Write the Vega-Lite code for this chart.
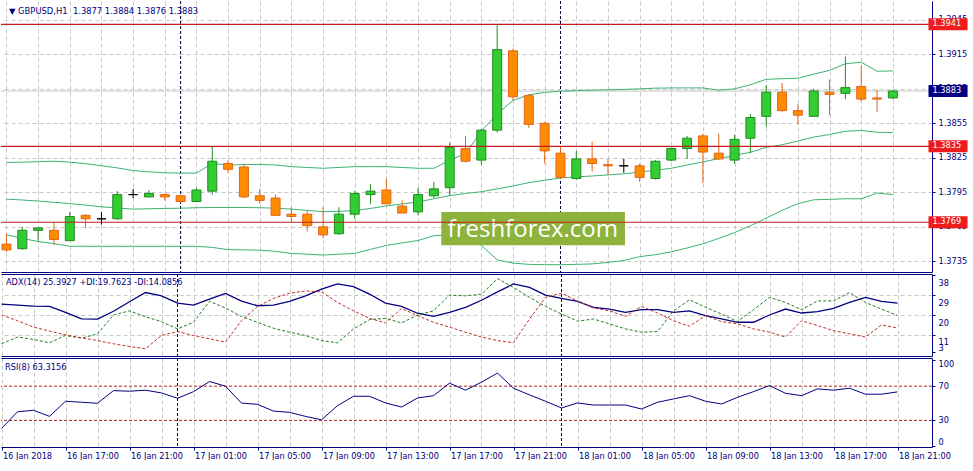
{
  "$schema": "https://vega.github.io/schema/vega-lite/v6.json",
  "padding": 0,
  "background": "white",
  "bounds": "flush",
  "spacing": 2,
  "config": {"view": {"stroke": null}, "font": "DejaVu Sans"},
  "datasets": {
    "bars": [
      {"t":"2018-01-16T13:00:00Z","o":1.3750,"h":1.3759,"l":1.3743,"c":1.3745,"bu":1.38209,"bm":1.37891,"bl":1.37581,"adx":24.95,"pdi":6.95,"mdi":20.0,"rsi":20.6},
      {"t":"2018-01-16T14:00:00Z","o":1.3746,"h":1.3765,"l":1.3745,"c":1.3762,"bu":1.38212,"bm":1.37883,"bl":1.37550,"adx":24.5,"pdi":10.0,"mdi":17.4,"rsi":40.1},
      {"t":"2018-01-16T15:00:00Z","o":1.3762,"h":1.3765,"l":1.3753,"c":1.3764,"bu":1.38216,"bm":1.37874,"bl":1.37522,"adx":24.05,"pdi":8.9,"mdi":14.5,"rsi":41.8},
      {"t":"2018-01-16T16:00:00Z","o":1.3762,"h":1.3769,"l":1.3749,"c":1.3754,"bu":1.38220,"bm":1.37863,"bl":1.37504,"adx":23.9,"pdi":7.4,"mdi":12.7,"rsi":34.7},
      {"t":"2018-01-16T17:00:00Z","o":1.3753,"h":1.3778,"l":1.3753,"c":1.3774,"bu":1.38212,"bm":1.37852,"bl":1.37481,"adx":21.2,"pdi":10.7,"mdi":11.0,"rsi":52.4},
      {"t":"2018-01-16T18:00:00Z","o":1.3775,"h":1.3776,"l":1.3764,"c":1.3772,"bu":1.38199,"bm":1.37839,"bl":1.37481,"adx":18.2,"pdi":9.5,"mdi":9.65,"rsi":51.2},
      {"t":"2018-01-16T19:00:00Z","o":1.3772,"h":1.3778,"l":1.3767,"c":1.3772,"bu":1.38181,"bm":1.37824,"bl":1.37481,"adx":18.1,"pdi":11.45,"mdi":8.4,"rsi":50.0},
      {"t":"2018-01-16T20:00:00Z","o":1.3772,"h":1.3796,"l":1.3771,"c":1.3793,"bu":1.38162,"bm":1.37814,"bl":1.37481,"adx":21.7,"pdi":20.0,"mdi":6.95,"rsi":64.8},
      {"t":"2018-01-16T21:00:00Z","o":1.3793,"h":1.3798,"l":1.3790,"c":1.3793,"bu":1.38139,"bm":1.37804,"bl":1.37481,"adx":26.0,"pdi":21.9,"mdi":5.7,"rsi":64.1},
      {"t":"2018-01-16T22:00:00Z","o":1.3791,"h":1.3797,"l":1.3791,"c":1.3794,"bu":1.38128,"bm":1.37807,"bl":1.37481,"adx":30.2,"pdi":19.2,"mdi":4.7,"rsi":65.3},
      {"t":"2018-01-16T23:00:00Z","o":1.3793,"h":1.3794,"l":1.3788,"c":1.3791,"bu":1.38120,"bm":1.37810,"bl":1.37481,"adx":28.7,"pdi":17.0,"mdi":10.7,"rsi":62.1},
      {"t":"2018-01-17T00:00:00Z","o":1.3792,"h":1.3793,"l":1.3786,"c":1.3787,"bu":1.38117,"bm":1.37812,"bl":1.37481,"adx":25.4,"pdi":13.7,"mdi":12.5,"rsi":55.9},
      {"t":"2018-01-17T01:00:00Z","o":1.3787,"h":1.3799,"l":1.3787,"c":1.3797,"bu":1.38117,"bm":1.37816,"bl":1.37481,"adx":24.5,"pdi":16.7,"mdi":10.7,"rsi":63.6},
      {"t":"2018-01-17T02:00:00Z","o":1.3796,"h":1.3835,"l":1.3793,"c":1.3822,"bu":1.38201,"bm":1.37818,"bl":1.37471,"adx":27.2,"pdi":26.2,"mdi":9.2,"rsi":75.4},
      {"t":"2018-01-17T03:00:00Z","o":1.3820,"h":1.3823,"l":1.3812,"c":1.3815,"bu":1.38187,"bm":1.37818,"bl":1.37452,"adx":29.8,"pdi":23.15,"mdi":7.7,"rsi":70.0},
      {"t":"2018-01-17T04:00:00Z","o":1.3817,"h":1.3820,"l":1.3790,"c":1.3791,"bu":1.38191,"bm":1.37818,"bl":1.37450,"adx":26.3,"pdi":19.3,"mdi":17.4,"rsi":50.2},
      {"t":"2018-01-17T05:00:00Z","o":1.3792,"h":1.3798,"l":1.3785,"c":1.3788,"bu":1.38193,"bm":1.37816,"bl":1.37447,"adx":24.2,"pdi":16.7,"mdi":23.9,"rsi":48.8},
      {"t":"2018-01-17T06:00:00Z","o":1.3790,"h":1.3793,"l":1.3775,"c":1.3775,"bu":1.38187,"bm":1.37812,"bl":1.37437,"adx":24.5,"pdi":14.0,"mdi":27.5,"rsi":40.9},
      {"t":"2018-01-17T07:00:00Z","o":1.3776,"h":1.3782,"l":1.3769,"c":1.3774,"bu":1.38173,"bm":1.37804,"bl":1.37419,"adx":26.2,"pdi":12.2,"mdi":29.9,"rsi":39.4},
      {"t":"2018-01-17T08:00:00Z","o":1.3776,"h":1.3779,"l":1.3761,"c":1.3766,"bu":1.38166,"bm":1.37793,"bl":1.37412,"adx":28.7,"pdi":10.7,"mdi":30.9,"rsi":34.7},
      {"t":"2018-01-17T09:00:00Z","o":1.3765,"h":1.3782,"l":1.3755,"c":1.3758,"bu":1.38159,"bm":1.37782,"bl":1.37405,"adx":31.7,"pdi":8.4,"mdi":30.5,"rsi":30.7},
      {"t":"2018-01-17T10:00:00Z","o":1.3759,"h":1.3782,"l":1.3758,"c":1.3776,"bu":1.38166,"bm":1.37785,"bl":1.37412,"adx":34.1,"pdi":7.4,"mdi":25.7,"rsi":47.2},
      {"t":"2018-01-17T11:00:00Z","o":1.3776,"h":1.3796,"l":1.3772,"c":1.3794,"bu":1.38173,"bm":1.37791,"bl":1.37419,"adx":32.9,"pdi":13.7,"mdi":21.9,"rsi":58.2},
      {"t":"2018-01-17T12:00:00Z","o":1.3793,"h":1.3802,"l":1.3785,"c":1.3796,"bu":1.38173,"bm":1.37810,"bl":1.37454,"adx":29.5,"pdi":17.9,"mdi":18.5,"rsi":58.2},
      {"t":"2018-01-17T13:00:00Z","o":1.3797,"h":1.3807,"l":1.3785,"c":1.3785,"bu":1.38173,"bm":1.37832,"bl":1.37489,"adx":25.4,"pdi":18.5,"mdi":16.4,"rsi":50.4},
      {"t":"2018-01-17T14:00:00Z","o":1.3783,"h":1.3788,"l":1.3777,"c":1.3777,"bu":1.38166,"bm":1.37849,"bl":1.37510,"adx":23.9,"pdi":16.4,"mdi":23.0,"rsi":45.6},
      {"t":"2018-01-17T15:00:00Z","o":1.3778,"h":1.3799,"l":1.3775,"c":1.3793,"bu":1.38159,"bm":1.37866,"bl":1.37531,"adx":20.8,"pdi":20.0,"mdi":19.7,"rsi":56.2},
      {"t":"2018-01-17T16:00:00Z","o":1.3792,"h":1.3804,"l":1.3790,"c":1.3798,"bu":1.38159,"bm":1.37894,"bl":1.37573,"adx":19.4,"pdi":21.9,"mdi":16.7,"rsi":58.9},
      {"t":"2018-01-17T17:00:00Z","o":1.3799,"h":1.3838,"l":1.3792,"c":1.3834,"bu":1.38229,"bm":1.37921,"bl":1.37581,"adx":21.2,"pdi":29.0,"mdi":14.5,"rsi":73.5},
      {"t":"2018-01-17T18:00:00Z","o":1.3833,"h":1.3844,"l":1.3821,"c":1.3822,"bu":1.38285,"bm":1.37940,"bl":1.37558,"adx":23.5,"pdi":28.7,"mdi":12.2,"rsi":65.3},
      {"t":"2018-01-17T19:00:00Z","o":1.3823,"h":1.3850,"l":1.3819,"c":1.3849,"bu":1.38480,"bm":1.37955,"bl":1.37489,"adx":26.7,"pdi":29.45,"mdi":10.0,"rsi":74.7},
      {"t":"2018-01-17T20:00:00Z","o":1.3849,"h":1.3940,"l":1.3847,"c":1.3919,"bu":1.38631,"bm":1.37980,"bl":1.37363,"adx":30.5,"pdi":36.5,"mdi":8.4,"rsi":85.3},
      {"t":"2018-01-17T21:00:00Z","o":1.3918,"h":1.3920,"l":1.3875,"c":1.3878,"bu":1.38748,"bm":1.38005,"bl":1.37335,"adx":34.1,"pdi":32.5,"mdi":7.4,"rsi":67.6},
      {"t":"2018-01-17T22:00:00Z","o":1.3879,"h":1.3880,"l":1.3851,"c":1.3854,"bu":1.38798,"bm":1.38034,"bl":1.37324,"adx":32.5,"pdi":28.0,"mdi":18.2,"rsi":59.8},
      {"t":"2018-01-17T23:00:00Z","o":1.3855,"h":1.3856,"l":1.3820,"c":1.3831,"bu":1.38818,"bm":1.38055,"bl":1.37321,"adx":29.0,"pdi":23.9,"mdi":28.0,"rsi":52.4},
      {"t":"2018-01-18T00:00:00Z","o":1.3829,"h":1.3835,"l":1.3807,"c":1.3808,"bu":1.38829,"bm":1.38075,"bl":1.37321,"adx":27.5,"pdi":20.45,"mdi":29.9,"rsi":44.5},
      {"t":"2018-01-18T01:00:00Z","o":1.3807,"h":1.3831,"l":1.3806,"c":1.3824,"bu":1.38834,"bm":1.38084,"bl":1.37324,"adx":26.2,"pdi":17.2,"mdi":26.4,"rsi":50.4},
      {"t":"2018-01-18T02:00:00Z","o":1.3824,"h":1.3839,"l":1.3813,"c":1.3820,"bu":1.38838,"bm":1.38092,"bl":1.37328,"adx":23.5,"pdi":18.2,"mdi":23.15,"rsi":48.0},
      {"t":"2018-01-18T03:00:00Z","o":1.3819,"h":1.3824,"l":1.3810,"c":1.3818,"bu":1.38840,"bm":1.38101,"bl":1.37341,"adx":22.7,"pdi":15.95,"mdi":21.9,"rsi":48.0},
      {"t":"2018-01-18T04:00:00Z","o":1.3818,"h":1.3824,"l":1.3812,"c":1.3818,"bu":1.38844,"bm":1.38111,"bl":1.37357,"adx":21.2,"pdi":13.7,"mdi":19.4,"rsi":48.0},
      {"t":"2018-01-18T05:00:00Z","o":1.3818,"h":1.3820,"l":1.3804,"c":1.3808,"bu":1.38849,"bm":1.38126,"bl":1.37391,"adx":22.4,"pdi":12.2,"mdi":23.9,"rsi":43.3},
      {"t":"2018-01-18T06:00:00Z","o":1.3807,"h":1.3823,"l":1.3806,"c":1.3822,"bu":1.38855,"bm":1.38142,"bl":1.37408,"adx":22.4,"pdi":12.5,"mdi":20.9,"rsi":51.2},
      {"t":"2018-01-18T07:00:00Z","o":1.3823,"h":1.3834,"l":1.3822,"c":1.3833,"bu":1.38857,"bm":1.38159,"bl":1.37433,"adx":21.2,"pdi":21.9,"mdi":17.4,"rsi":55.1},
      {"t":"2018-01-18T08:00:00Z","o":1.3833,"h":1.3844,"l":1.3824,"c":1.3842,"bu":1.38857,"bm":1.38187,"bl":1.37466,"adx":21.9,"pdi":26.9,"mdi":14.9,"rsi":58.9},
      {"t":"2018-01-18T09:00:00Z","o":1.3844,"h":1.3846,"l":1.3803,"c":1.3830,"bu":1.38857,"bm":1.38214,"bl":1.37502,"adx":19.7,"pdi":23.5,"mdi":19.7,"rsi":52.4},
      {"t":"2018-01-18T10:00:00Z","o":1.3829,"h":1.3846,"l":1.3823,"c":1.3824,"bu":1.38838,"bm":1.38243,"bl":1.37550,"adx":18.2,"pdi":20.45,"mdi":17.0,"rsi":49.2},
      {"t":"2018-01-18T11:00:00Z","o":1.3823,"h":1.3845,"l":1.3820,"c":1.3841,"bu":1.38849,"bm":1.38271,"bl":1.37600,"adx":16.7,"pdi":17.0,"mdi":16.0,"rsi":57.0},
      {"t":"2018-01-18T12:00:00Z","o":1.3842,"h":1.3863,"l":1.3829,"c":1.3860,"bu":1.38885,"bm":1.38298,"bl":1.37659,"adx":16.7,"pdi":22.4,"mdi":13.7,"rsi":63.6},
      {"t":"2018-01-18T13:00:00Z","o":1.3861,"h":1.3888,"l":1.3852,"c":1.3882,"bu":1.38932,"bm":1.38340,"bl":1.37726,"adx":20.0,"pdi":28.0,"mdi":12.2,"rsi":70.7},
      {"t":"2018-01-18T14:00:00Z","o":1.3882,"h":1.3890,"l":1.3865,"c":1.3866,"bu":1.38937,"bm":1.38363,"bl":1.37793,"adx":22.7,"pdi":25.7,"mdi":10.0,"rsi":61.7},
      {"t":"2018-01-18T15:00:00Z","o":1.3866,"h":1.3872,"l":1.3854,"c":1.3862,"bu":1.38941,"bm":1.38396,"bl":1.37852,"adx":20.9,"pdi":22.4,"mdi":17.4,"rsi":58.9},
      {"t":"2018-01-18T16:00:00Z","o":1.3861,"h":1.3885,"l":1.3861,"c":1.3883,"bu":1.38977,"bm":1.38430,"bl":1.37885,"adx":21.5,"pdi":26.4,"mdi":15.2,"rsi":66.8},
      {"t":"2018-01-18T17:00:00Z","o":1.3882,"h":1.3893,"l":1.3862,"c":1.3880,"bu":1.39010,"bm":1.38452,"bl":1.37889,"adx":23.0,"pdi":26.4,"mdi":12.9,"rsi":65.3},
      {"t":"2018-01-18T18:00:00Z","o":1.3881,"h":1.3913,"l":1.3876,"c":1.3886,"bu":1.39067,"bm":1.38480,"bl":1.37894,"adx":25.7,"pdi":30.2,"mdi":11.45,"rsi":67.6},
      {"t":"2018-01-18T19:00:00Z","o":1.3887,"h":1.3905,"l":1.3874,"c":1.3876,"bu":1.39081,"bm":1.38488,"bl":1.37894,"adx":28.0,"pdi":25.7,"mdi":10.0,"rsi":60.6},
      {"t":"2018-01-18T20:00:00Z","o":1.3877,"h":1.3884,"l":1.3865,"c":1.3876,"bu":1.39002,"bm":1.38472,"bl":1.37944,"adx":26.2,"pdi":22.7,"mdi":15.5,"rsi":60.6},
      {"t":"2018-01-18T21:00:00Z","o":1.3877,"h":1.3884,"l":1.3876,"c":1.3883,"bu":1.39005,"bm":1.38469,"bl":1.37930,"adx":25.39,"pdi":19.76,"mdi":14.09,"rsi":63.32}
    ],
    "levels": [
      {"p":1.3941,"kind":"level"},
      {"p":1.3835,"kind":"level"},
      {"p":1.3769,"kind":"level"},
      {"p":1.3883,"kind":"bid"}
    ],
    "seps": [
      {"t":"2018-01-17T00:00:00Z"},
      {"t":"2018-01-18T00:00:00Z"}
    ],
    "rsiLevels": [
      {"v":70},
      {"v":30}
    ]
  },
  "vconcat": [
    {
      "width": 931,
      "height": 271,
      "resolve": {"axis": {"x": "independent", "y": "independent"}},
      "layer": [
        {
          "data": {"name": "levels"},
          "transform": [{"filter": "datum.kind == 'bid'"}],
          "mark": {"type": "rule", "color": "#c4c4c4", "strokeWidth": 1},
          "encoding": {"y": {"field": "p", "type": "quantitative", "scale": {"domain": [1.37301, 1.39569], "zero": false, "nice": false}, "axis": null}}
        },
        {
          "data": {"name": "seps"},
          "mark": {"type": "rule", "color": "#000033", "strokeDash": [3, 2], "strokeWidth": 1},
          "encoding": {"x": {"field": "t", "type": "temporal", "scale": {"type": "utc", "domain": [1516107487500, 1516316962500]}, "axis": null}}
        },
        {
          "data": {"name": "bars"},
          "mark": {"type": "line", "color": "#3CB371", "strokeWidth": 1, "clip": true},
          "encoding": {
            "x": {"field": "t", "type": "temporal", "scale": {"type": "utc", "domain": [1516107487500, 1516316962500]}, "axis": null},
            "y": {"field": "bu", "type": "quantitative", "scale": {"domain": [1.37301, 1.39569], "zero": false, "nice": false}, "axis": null}
          }
        },
        {
          "data": {"name": "bars"},
          "mark": {"type": "line", "color": "#3CB371", "strokeWidth": 1, "clip": true},
          "encoding": {
            "x": {"field": "t", "type": "temporal", "scale": {"type": "utc", "domain": [1516107487500, 1516316962500]}, "axis": null},
            "y": {"field": "bm", "type": "quantitative", "scale": {"domain": [1.37301, 1.39569], "zero": false, "nice": false}, "axis": null}
          }
        },
        {
          "data": {"name": "bars"},
          "mark": {"type": "line", "color": "#3CB371", "strokeWidth": 1, "clip": true},
          "encoding": {
            "x": {"field": "t", "type": "temporal", "scale": {"type": "utc", "domain": [1516107487500, 1516316962500]}, "axis": null},
            "y": {"field": "bl", "type": "quantitative", "scale": {"domain": [1.37301, 1.39569], "zero": false, "nice": false}, "axis": null}
          }
        },
        {
          "data": {"name": "bars"},
          "mark": {"type": "rule", "strokeWidth": 1, "clip": true},
          "encoding": {
            "x": {"field": "t", "type": "temporal", "scale": {"type": "utc", "domain": [1516107487500, 1516316962500]},
              "axis": {"orient": "bottom", "values": [1516107600000,1516114800000,1516122000000,1516129200000,1516136400000,1516143600000,1516150800000,1516158000000,1516165200000,1516172400000,1516179600000,1516186800000,1516194000000,1516201200000,1516208400000,1516215600000,1516222800000,1516230000000,1516237200000,1516244400000,1516251600000,1516258800000,1516266000000,1516273200000,1516280400000,1516287600000,1516294800000,1516302000000,1516309200000],
                "grid": true, "gridColor": "#c8c8c8", "gridDash": [4, 3], "labels": false, "ticks": false, "domain": true, "domainColor": "#000080", "domainWidth": 1, "title": null}},
            "y": {"field": "l", "type": "quantitative", "scale": {"domain": [1.37301, 1.39569], "zero": false, "nice": false},
              "axis": {"orient": "right", "values": [1.3735, 1.3765, 1.3795, 1.3825, 1.3855, 1.3885, 1.3915, 1.3945], "format": ".4f", "title": null,
                "grid": true, "gridColor": "#c8c8c8", "gridDash": [4, 3], "domain": true, "domainColor": "#000080", "domainWidth": 1, "tickColor": "#000080", "tickSize": 3, "labelPadding": 3,
                "labelColor": "#000080", "labelFont": "DejaVu Sans", "labelFontSize": 8.2, "labelOverlap": false, "labelFlush": false, "labelBound": false}},
            "y2": {"field": "h"},
            "color": {"condition": [{"test": "datum.c > datum.o", "value": "#1F8B1F"}, {"test": "datum.c == datum.o", "value": "#000000"}], "value": "#E2661A"}
          }
        },
        {
          "data": {"name": "bars"},
          "mark": {"type": "bar", "width": 9, "strokeWidth": 1, "clip": true},
          "encoding": {
            "x": {"field": "t", "type": "temporal", "scale": {"type": "utc", "domain": [1516107487500, 1516316962500]}, "axis": null},
            "y": {"field": "o", "type": "quantitative", "scale": {"domain": [1.37301, 1.39569], "zero": false, "nice": false}, "axis": null},
            "y2": {"field": "c"},
            "fill": {"condition": [{"test": "datum.c > datum.o", "value": "#32CD32"}, {"test": "datum.c == datum.o", "value": "#000000"}], "value": "#FF8C00"},
            "stroke": {"condition": [{"test": "datum.c > datum.o", "value": "#1F8B1F"}, {"test": "datum.c == datum.o", "value": "#000000"}], "value": "#E2661A"}
          }
        },
        {
          "data": {"values": [{}]},
          "mark": {"type": "rect", "color": "#8DB33C", "clip": true},
          "encoding": {
            "x": {"datum": 1516206487500, "type": "temporal", "scale": {"type": "utc", "domain": [1516107487500, 1516316962500]}, "axis": null},
            "x2": {"datum": 1516248270000},
            "y": {"datum": 1.37778, "type": "quantitative", "scale": {"domain": [1.37301, 1.39569], "zero": false, "nice": false}, "axis": null},
            "y2": {"datum": 1.37491}
          }
        },
        {
          "data": {"values": [{}]},
          "mark": {"type": "text", "text": "freshforex.com", "font": "Open Sans", "fontSize": 24, "color": "white", "align": "center", "baseline": "alphabetic", "clip": true},
          "encoding": {
            "x": {"datum": 1516227300000, "type": "temporal", "scale": {"type": "utc", "domain": [1516107487500, 1516316962500]}, "axis": null},
            "y": {"datum": 1.37560, "type": "quantitative", "scale": {"domain": [1.37301, 1.39569], "zero": false, "nice": false}, "axis": null}
          }
        },
        {
          "data": {"name": "levels"},
          "transform": [{"filter": "datum.kind == 'level'"}],
          "mark": {"type": "rule", "color": "#C41E1E", "strokeWidth": 1.2},
          "encoding": {"y": {"field": "p", "type": "quantitative", "scale": {"domain": [1.37301, 1.39569], "zero": false, "nice": false}, "axis": null}}
        },
        {
          "data": {"name": "levels"},
          "mark": {"type": "bar", "orient": "horizontal", "height": 12, "clip": false},
          "encoding": {
            "x": {"datum": 1516317300000, "type": "temporal", "scale": {"type": "utc", "domain": [1516107487500, 1516316962500]}, "axis": null},
            "x2": {"datum": 1516326187500},
            "y": {"field": "p", "type": "quantitative", "scale": {"domain": [1.37301, 1.39569], "zero": false, "nice": false}, "axis": null},
            "fill": {"condition": {"test": "datum.kind == 'bid'", "value": "#000080"}, "value": "#EE1C1C"}
          }
        },
        {
          "data": {"name": "levels"},
          "mark": {"type": "text", "align": "left", "baseline": "middle", "dx": 4, "color": "white", "font": "DejaVu Sans", "fontSize": 8.2, "clip": false},
          "encoding": {
            "x": {"datum": 1516317300000, "type": "temporal", "scale": {"type": "utc", "domain": [1516107487500, 1516316962500]}, "axis": null},
            "y": {"field": "p", "type": "quantitative", "scale": {"domain": [1.37301, 1.39569], "zero": false, "nice": false}, "axis": null},
            "text": {"field": "p", "type": "quantitative", "format": ".4f"}
          }
        },
        {
          "data": {"values": [{}]},
          "mark": {"type": "text", "text": "▼ GBPUSD,H1\u00a0 1.3877 1.3884 1.3876 1.3883", "align": "left", "baseline": "alphabetic", "dx": 3, "dy": 7.5, "color": "#000080", "font": "DejaVu Sans", "fontSize": 8.4, "clip": true},
          "encoding": {
            "x": {"datum": 1516107487500, "type": "temporal", "scale": {"type": "utc", "domain": [1516107487500, 1516316962500]}, "axis": null},
            "y": {"datum": 1.39569, "type": "quantitative", "scale": {"domain": [1.37301, 1.39569], "zero": false, "nice": false}, "axis": null}
          }
        }
      ]
    },
    {
      "width": 931,
      "height": 82,
      "resolve": {"axis": {"x": "independent", "y": "independent"}},
      "layer": [
        {
          "data": {"name": "bars"},
          "mark": {"type": "line", "color": "#000080", "strokeWidth": 1.3, "clip": true},
          "encoding": {
            "x": {"field": "t", "type": "temporal", "scale": {"type": "utc", "domain": [1516107487500, 1516316962500]},
              "axis": {"orient": "bottom", "values": [1516107600000,1516114800000,1516122000000,1516129200000,1516136400000,1516143600000,1516150800000,1516158000000,1516165200000,1516172400000,1516179600000,1516186800000,1516194000000,1516201200000,1516208400000,1516215600000,1516222800000,1516230000000,1516237200000,1516244400000,1516251600000,1516258800000,1516266000000,1516273200000,1516280400000,1516287600000,1516294800000,1516302000000,1516309200000],
                "grid": true, "gridColor": "#c8c8c8", "gridDash": [4, 3], "labels": false, "ticks": false, "domain": true, "domainColor": "#000080", "domainWidth": 1, "title": null}},
            "y": {"field": "adx", "type": "quantitative", "scale": {"domain": [1.4, 38.6], "zero": false, "nice": false},
              "axis": {"orient": "right", "values": [3, 11, 20, 29, 38], "title": null, "grid": true, "gridColor": "#c8c8c8", "gridDash": [4, 3],
                "gridOpacity": {"condition": {"test": "datum.value == 3 || datum.value == 38", "value": 0}, "value": 1},
                "domain": true, "domainColor": "#000080", "domainWidth": 1, "tickColor": "#000080", "tickSize": 3, "labelPadding": 3, "labelColor": "#000080", "labelFont": "DejaVu Sans", "labelFontSize": 8.2,
                "labelBaseline": {"condition": {"test": "datum.value == 3", "value": "bottom"}, "value": "top"},
                "labelOffset": {"condition": {"test": "datum.value == 3", "value": 0}, "value": 4},
                "labelOverlap": false, "labelFlush": false, "labelBound": false}}
          }
        },
        {
          "data": {"name": "bars"},
          "mark": {"type": "line", "color": "#1E7D1E", "strokeWidth": 1, "strokeDash": [3, 2], "clip": true},
          "encoding": {
            "x": {"field": "t", "type": "temporal", "scale": {"type": "utc", "domain": [1516107487500, 1516316962500]},
              "axis": {"orient": "top", "labels": false, "ticks": false, "grid": false, "domain": true, "domainColor": "#000080", "domainWidth": 1, "title": null}},
            "y": {"field": "pdi", "type": "quantitative", "scale": {"domain": [1.4, 38.6], "zero": false, "nice": false}, "axis": null}
          }
        },
        {
          "data": {"name": "bars"},
          "mark": {"type": "line", "color": "#C0302A", "strokeWidth": 1, "strokeDash": [3, 2], "clip": true},
          "encoding": {
            "x": {"field": "t", "type": "temporal", "scale": {"type": "utc", "domain": [1516107487500, 1516316962500]}, "axis": null},
            "y": {"field": "mdi", "type": "quantitative", "scale": {"domain": [1.4, 38.6], "zero": false, "nice": false}, "axis": null}
          }
        },
        {
          "data": {"name": "seps"},
          "mark": {"type": "rule", "color": "#000033", "strokeDash": [3, 2], "strokeWidth": 1},
          "encoding": {"x": {"field": "t", "type": "temporal", "scale": {"type": "utc", "domain": [1516107487500, 1516316962500]}, "axis": null}}
        },
        {
          "data": {"values": [{}]},
          "mark": {"type": "text", "text": "ADX(14) 25.3927 +DI:19.7623 -DI:14.0856", "align": "left", "baseline": "middle", "dx": 5, "dy": 9, "color": "#000080", "font": "DejaVu Sans", "fontSize": 8.2, "clip": true},
          "encoding": {
            "x": {"datum": 1516107487500, "type": "temporal", "scale": {"type": "utc", "domain": [1516107487500, 1516316962500]}, "axis": null},
            "y": {"datum": 38.6, "type": "quantitative", "scale": {"domain": [1.4, 38.6], "zero": false, "nice": false}, "axis": null}
          }
        }
      ]
    },
    {
      "width": 931,
      "height": 89,
      "resolve": {"axis": {"x": "independent", "y": "independent"}},
      "layer": [
        {
          "data": {"name": "rsiLevels"},
          "mark": {"type": "rule", "color": "#B22222", "strokeWidth": 1, "strokeDash": [3, 2]},
          "encoding": {"y": {"field": "v", "type": "quantitative", "scale": {"domain": [-1.06, 102.9], "zero": false, "nice": false}, "axis": null}}
        },
        {
          "data": {"name": "bars"},
          "mark": {"type": "line", "color": "#000080", "strokeWidth": 1, "clip": true},
          "encoding": {
            "x": {"field": "t", "type": "temporal", "scale": {"type": "utc", "domain": [1516107487500, 1516316962500]},
              "axis": {"orient": "bottom", "values": [1516107600000,1516114800000,1516122000000,1516129200000,1516136400000,1516143600000,1516150800000,1516158000000,1516165200000,1516172400000,1516179600000,1516186800000,1516194000000,1516201200000,1516208400000,1516215600000,1516222800000,1516230000000,1516237200000,1516244400000,1516251600000,1516258800000,1516266000000,1516273200000,1516280400000,1516287600000,1516294800000,1516302000000,1516309200000],
                "grid": true, "gridColor": "#c8c8c8", "gridDash": [4, 3], "domain": true, "domainColor": "#000080", "domainWidth": 1, "ticks": true, "tickSize": 3, "tickColor": "#000080",
                "tickOpacity": {"condition": {"test": "(+datum.value - 1516107600000) % 14400000 != 0", "value": 0}, "value": 1},
                "labelExpr": "(+datum.value - 1516107600000) % 14400000 != 0 ? '' : (+datum.value == 1516107600000 ? '16 Jan 2018' : utcFormat(datum.value, '%d %b %H:%M'))",
                "labelAlign": "left", "labelOffset": 1, "labelPadding": 2, "labelFont": "DejaVu Sans", "labelFontSize": 8.2, "labelColor": "#000080",
                "labelOverlap": false, "labelFlush": false, "labelBound": false, "title": null}},
            "y": {"field": "rsi", "type": "quantitative", "scale": {"domain": [-1.06, 102.9], "zero": false, "nice": false},
              "axis": {"orient": "right", "values": [0, 30, 70, 100], "title": null, "grid": false, "domain": true, "domainColor": "#000080", "domainWidth": 1, "tickColor": "#000080", "tickSize": 3, "labelPadding": 3,
                "labelColor": "#000080", "labelFont": "DejaVu Sans", "labelFontSize": 8.2,
                "labelBaseline": {"condition": [{"test": "datum.value == 100", "value": "top"}, {"test": "datum.value == 0", "value": "bottom"}], "value": "middle"},
                "labelOverlap": false, "labelFlush": false, "labelBound": false}}
          }
        },
        {
          "data": {"name": "seps"},
          "mark": {"type": "rule", "color": "#000033", "strokeDash": [3, 2], "strokeWidth": 1},
          "encoding": {"x": {"field": "t", "type": "temporal", "scale": {"type": "utc", "domain": [1516107487500, 1516316962500]},
            "axis": {"orient": "top", "labels": false, "ticks": false, "grid": false, "domain": true, "domainColor": "#000080", "domainWidth": 1, "title": null}}}
        },
        {
          "data": {"values": [{}]},
          "mark": {"type": "text", "text": "RSI(8) 63.3156", "align": "left", "baseline": "middle", "dx": 4, "dy": 9.7, "color": "#000080", "font": "DejaVu Sans", "fontSize": 8.2, "clip": true},
          "encoding": {
            "x": {"datum": 1516107487500, "type": "temporal", "scale": {"type": "utc", "domain": [1516107487500, 1516316962500]}, "axis": null},
            "y": {"datum": 102.9, "type": "quantitative", "scale": {"domain": [-1.06, 102.9], "zero": false, "nice": false}, "axis": null}
          }
        }
      ]
    }
  ]
}
